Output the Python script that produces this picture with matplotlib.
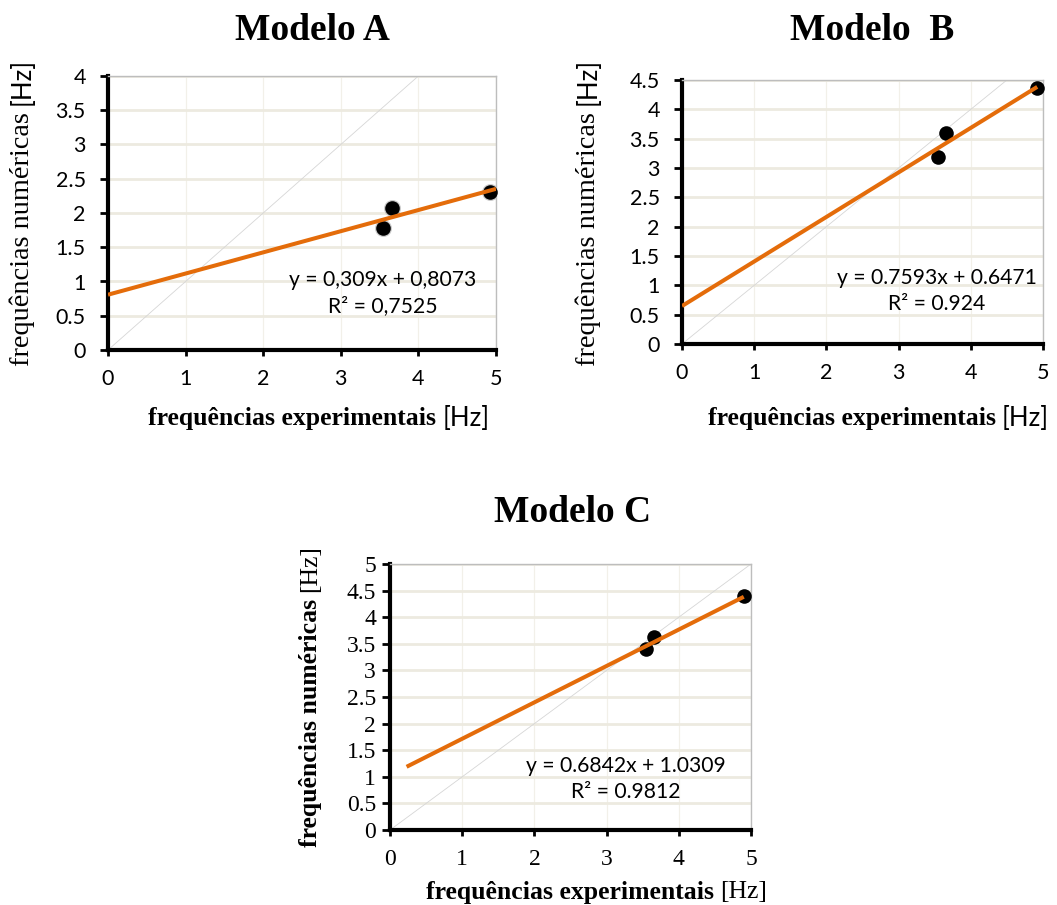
import matplotlib
matplotlib.use("Agg")
import matplotlib.pyplot as plt
import numpy as np

# Experimental vs numerical natural frequencies for three models
titles = ["Modelo A", "Modelo  B", "Modelo C"]
x_exp = [3.55, 3.66, 4.92]
x_exp_c = [3.55, 3.66, 4.90]
y_num_a = [1.78, 2.07, 2.31]
y_num_b = [3.19, 3.60, 4.36]
y_num_c = [3.40, 3.62, 4.40]

# Linear trendline parameters (slope, intercept) and R² labels
fit_a = (0.309, 0.8073)
fit_b = (0.7593, 0.6471)
fit_c = (0.6842, 1.0309)
eq_a = "y = 0,309x + 0,8073\nR² = 0,7525"
eq_b = "y = 0.7593x + 0.6471\nR² = 0.924"
eq_c = "y = 0.6842x + 1.0309\nR² = 0.9812"

# Axis limits and ticks
ymax = [4.0, 4.5, 5.0]
xticks = [0, 1, 2, 3, 4, 5]

W, H = 1057, 905
fig = plt.figure(figsize=(W / 100, H / 100), dpi=100)

SERIF = ["Liberation Serif", "DejaVu Serif"]
SANS = ["Lato", "DejaVu Sans"]
ORANGE = "#E46C0A"


def make_axes(left, top, right, bottom):
    return fig.add_axes([left / W, 1 - bottom / H, (right - left) / W, (bottom - top) / H])


def style(ax, ym, tick_font, tick_size, ypad):
    ax.set_xlim(0, 5)
    ax.set_ylim(0, ym)
    yt = np.arange(0, ym + 0.01, 0.5)
    ax.set_xticks(xticks)
    ax.set_yticks(yt)
    ax.set_yticklabels([f"{v:g}" for v in yt])
    ax.grid(axis="y", color="#EDEAE0", lw=2.0, zorder=0)
    ax.grid(axis="x", color="#F2F0E9", lw=0.9, zorder=0)
    ax.set_axisbelow(True)
    for s in ["left", "bottom"]:
        ax.spines[s].set_linewidth(3)
        ax.spines[s].set_color("black")
    for s in ["top", "right"]:
        ax.spines[s].set_linewidth(1)
        ax.spines[s].set_color("#BDBDBD")
    ax.tick_params(axis="y", direction="out", length=6, width=2, color="black", pad=ypad)
    ax.tick_params(axis="x", direction="out", length=4, width=2, color="black", pad=10)
    for lab in ax.get_xticklabels() + ax.get_yticklabels():
        lab.set_family(tick_font)
        lab.set_fontsize(tick_size)


def labels(title, title_xy, ylab_x, ylab_split, ylab_bold, xlab_split, xlab_y, hz_font):
    fig.text(title_xy[0] / W, 1 - title_xy[1] / H, title, ha="center", va="center",
             family=SERIF, fontweight="bold", fontsize=27)
    # x label: bold serif words followed by the unit
    fig.text(xlab_split / W, 1 - xlab_y / H, "frequências experimentais ",
             ha="right", va="center", family=SERIF, fontweight="bold", fontsize=18.5)
    fig.text(xlab_split / W, 1 - xlab_y / H, "[Hz]", ha="left", va="center",
             family=hz_font, fontsize=18.5)
    # y label: rotated words below the unit
    fig.text(ylab_x / W, 1 - ylab_split / H, "frequências numéricas ", ha="center",
             va="top", rotation=90, family=SERIF,
             fontweight="bold" if ylab_bold else "normal",
             fontsize=18.5 if ylab_bold else 20.3)
    fig.text(ylab_x / W, 1 - ylab_split / H, "[Hz]", ha="center", va="bottom",
             rotation=90, family=hz_font, fontsize=18.5)


def draw(ax, xs, ys, fit, eq, ym, x0, x1, eq_xy, halo):
    ax.plot([0, ym], [0, ym], color="#D6D6D6", lw=0.6, zorder=1)
    if halo:
        ax.scatter(xs, ys, s=150, color="#A0A0A0", alpha=0.55, zorder=2, lw=0)
    ax.scatter(xs, ys, s=110, color="black", zorder=3, lw=0, clip_on=False)
    xx = np.array([x0, x1])
    ax.plot(xx, fit[0] * xx + fit[1], color=ORANGE, lw=2.9, zorder=4,
            solid_capstyle="butt")
    ax.text(eq_xy[0], eq_xy[1], eq, ha="center", va="center", family=SANS,
            fontsize=15.2, linespacing=1.4, zorder=5)


# Modelo A
axA = make_axes(108, 76, 496, 350)
style(axA, ymax[0], SANS, 15.5, 10)
draw(axA, x_exp, y_num_a, fit_a, eq_a, ymax[0], 0.0, 5.0, (3.54, 0.83), True)
labels(titles[0], (312, 30), 22, 105, False, 443, 418, SANS)

# Modelo B
axB = make_axes(682, 80, 1043, 344)
style(axB, ymax[1], SANS, 15.5, 10)
draw(axB, x_exp, y_num_b, fit_b, eq_b, ymax[1], 0.0, 4.92, (3.53, 0.9), False)
labels(titles[1], (872, 30), 588, 105, False, 1002, 418, SANS)

# Modelo C
axC = make_axes(390, 564, 751, 830)
style(axC, ymax[2], SERIF, 17, 4)
draw(axC, x_exp_c, y_num_c, fit_c, eq_c, ymax[2], 0.23, 4.90, (3.27, 0.96), False)
labels(titles[2], (573, 512), 310, 592, True, 720, 892, SERIF)

fig.savefig("out.png", dpi=100, facecolor="white")
